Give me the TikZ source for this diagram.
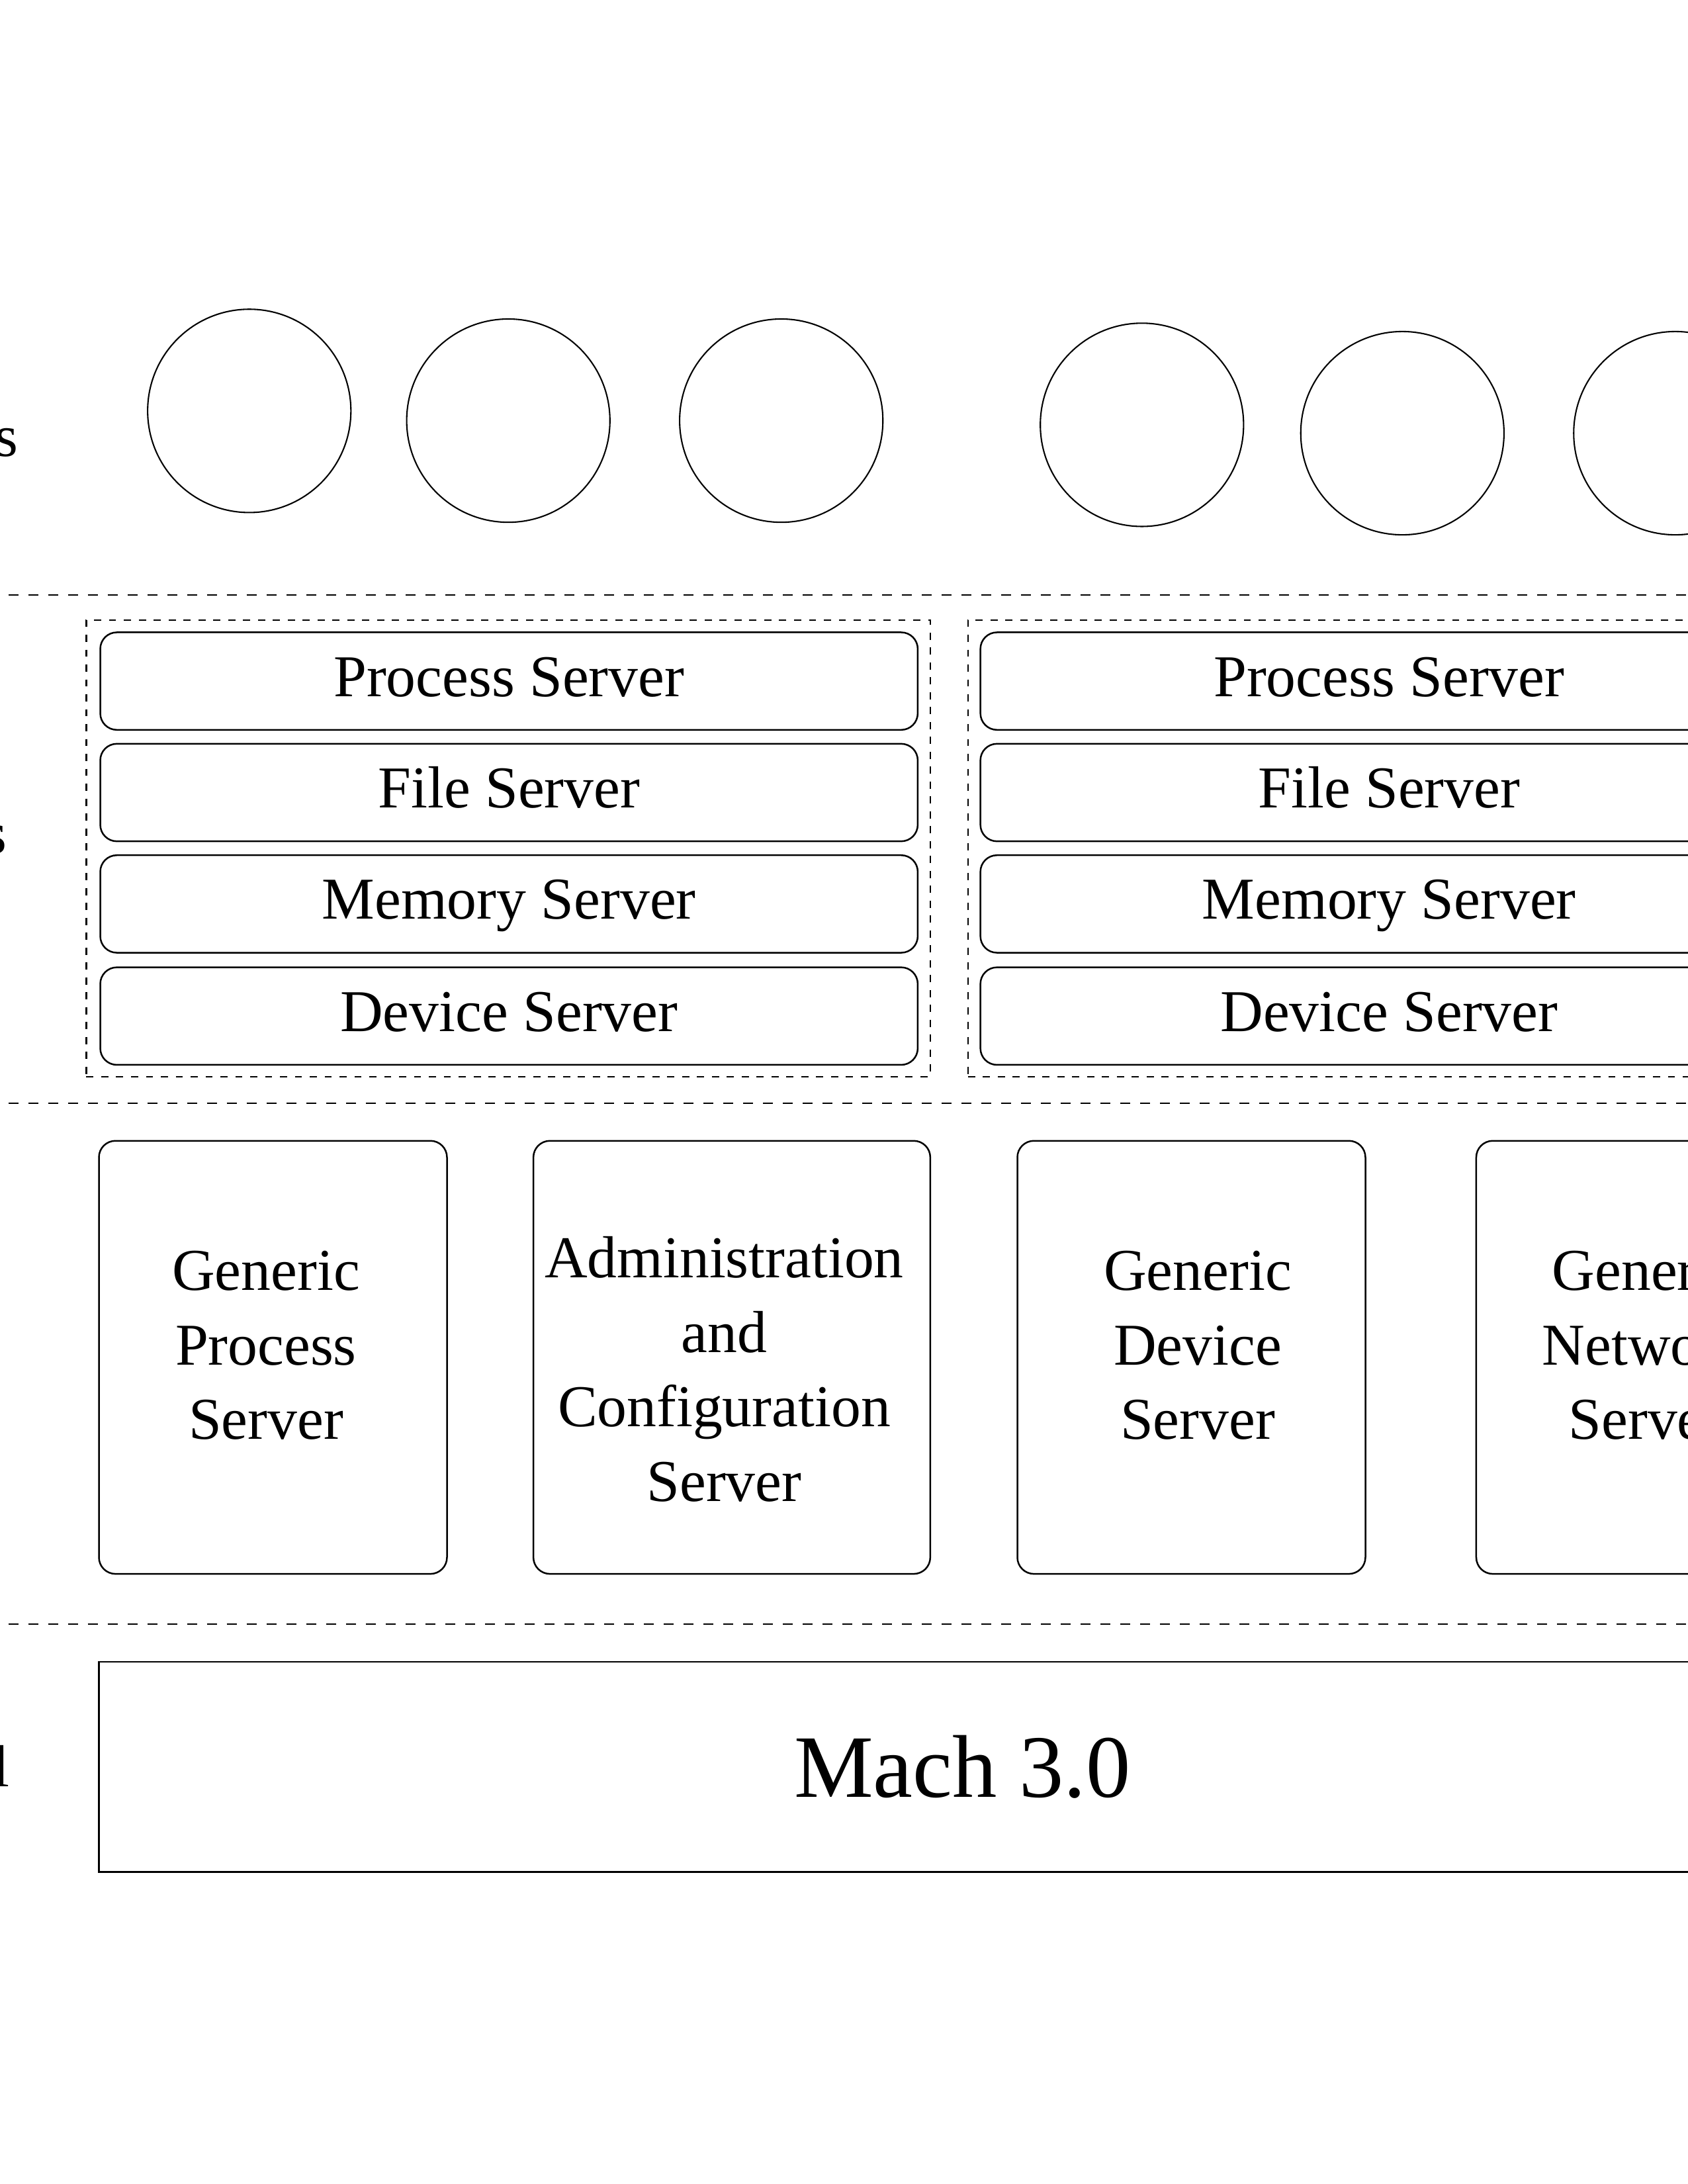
\documentclass[tikz,border=0pt]{standalone}
\usepackage{fontspec}
\setmainfont{Liberation Serif}
\begin{document}
\begin{tikzpicture}[x={(0.50495pt,0)},y={(0,-0.50495pt)},
  every node/.style={inner sep=0pt,outer sep=0pt},
  txt/.style={font=\fontsize{21.5}{27}\selectfont},
  proc/.style={circle,draw,line width=0.5pt,minimum size=73.7pt},
  layer/.style={draw,line width=0.5pt,dash pattern=on 3.6pt off 3.6pt},
  group/.style={draw,line width=0.5pt,dash pattern=on 2.6pt off 2.8pt,minimum width=306pt,minimum height=165.6pt},
  rowbox/.style={draw,line width=0.6pt,rounded corners=6pt,minimum width=296.4pt,minimum height=35.35pt,txt,text height=15pt,text depth=4pt},
  gbox/.style={draw,line width=0.6pt,rounded corners=6pt,minimum width=126.2pt,minimum height=157pt},
  gtext/.style={txt,align=center},
  kbox/.style={draw,line width=0.6pt,minimum width=626.1pt,minimum height=76.2pt,font=\fontsize{32.3}{38}\selectfont}]
\useasboundingbox (0,0) rectangle (1212,1568);
% left labels (cut off)
\node[txt,anchor=east] (lab1) at (13,318) {s};
\node[txt,anchor=east] (lab2) at (5,603) {s};
\node[txt,anchor=east] (lab4) at (7,1268) {l};
% processes
\node[proc] (p1) at (179,295) {};
\node[proc] (p2) at (365,302) {};
\node[proc] (p3) at (561,302) {};
\node[proc] (p4) at (820,305) {};
\node[proc] (p5) at (1007,311) {};
\node[proc] (p6) at (1203,311) {};
% layer separators
\coordinate (s1a) at (6,427); \coordinate (s1b) at (1230,427);
\coordinate (s2a) at (6,792); \coordinate (s2b) at (1230,792);
\coordinate (s3a) at (6,1166); \coordinate (s3b) at (1230,1166);
\draw[layer] (s1a) -- (s1b);
\draw[layer] (s2a) -- (s2b);
\draw[layer] (s3a) -- (s3b);
% personality groups
\node[group] (gA) at (365,609) {};
\node[group] (gB) at (998,609) {};
\node[rowbox] (a1) at (365.5,489) {Process Server};
\node[rowbox] (a2) at (365.5,569) {File Server};
\node[rowbox] (a3) at (365.5,649) {Memory Server};
\node[rowbox] (a4) at (365.5,729.5) {Device Server};
\node[rowbox] (b1) at (997.5,489) {Process Server};
\node[rowbox] (b2) at (997.5,569) {File Server};
\node[rowbox] (b3) at (997.5,649) {Memory Server};
\node[rowbox] (b4) at (997.5,729.5) {Device Server};
% generic servers
\node[gbox] (g1) at (196,974.5) {};
\node[gbox,minimum width=143.9pt] (g2) at (525.5,974.5) {};
\node[gbox] (g3) at (855.5,974.5) {};
\node[gbox] (g4) at (1185,974.5) {};
\node[gtext] (g1t) at (191,966) {Generic\\Process\\Server};
\node[gtext] (g2t) at (520,983) {Administration\\and\\Configuration\\Server};
\node[gtext] (g3t) at (860,966) {Generic\\Device\\Server};
\node[gtext] (g4t) at (1182,966) {Generic\\Network\\Server};
% kernel
\node[kbox] (k) at (691,1268.5) {Mach 3.0};
\end{tikzpicture}
\end{document}
